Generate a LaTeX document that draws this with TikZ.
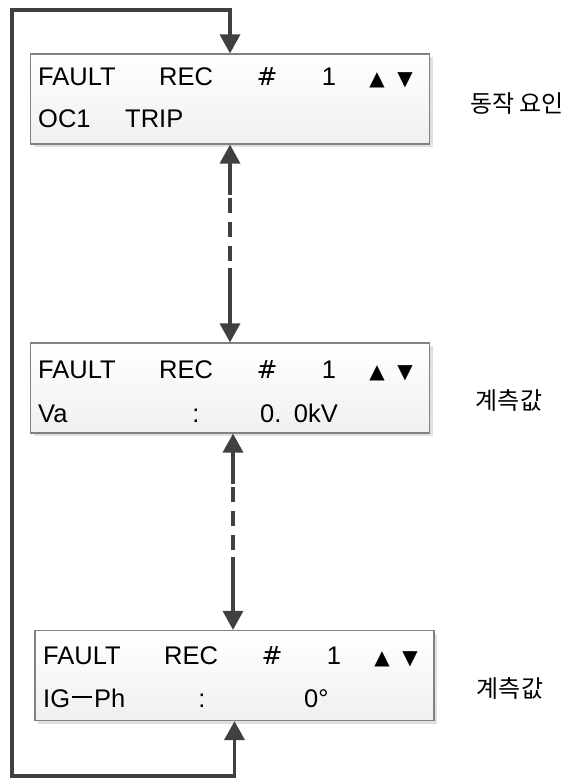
\documentclass[tikz,border=0pt]{standalone}
\usepackage{fontspec}
\setmainfont{Liberation Sans}
\newfontfamily\kofont{Noto Sans CJK KR}
\newfontfamily\trifont{DejaVu Sans}
\usepackage{tikz}
\usetikzlibrary{arrows.meta, shadows, calc}
\definecolor{lcdline}{RGB}{64, 64, 64}
\definecolor{lcdframe}{RGB}{130, 130, 130}
\tikzset{
    lcd/.style={rectangle, draw=lcdframe, line width=1.2pt,
        top color=white, bottom color=gray!12,
        minimum width=399pt, minimum height=90pt, inner sep=0pt,
        drop shadow={shadow xshift=3pt, shadow yshift=-3pt, fill=gray!40, opacity=0.6}},
    lcdtext/.style={anchor=base west, inner sep=0pt, font=\fontsize{25.5}{30}\selectfont},
    tri/.style={anchor=base, inner sep=0pt, font=\trifont\fontsize{20}{24}\selectfont},
    note/.style={inner sep=0pt, font=\kofont\fontsize{24}{28}\selectfont},
    flow/.style={draw=lcdline, line width=3.5pt,
        {Triangle[length=19pt, width=20pt]}-{Triangle[length=19pt, width=20pt]}},
    flowdash/.style={flow, dash pattern={on 32pt off 3pt on 15pt off 9pt on 15pt off 9pt on 15pt off 7pt on 300pt}},
}

\begin{document}
\begin{tikzpicture}[x=1pt, y=-1pt]
    \useasboundingbox (0,0) rectangle (571,778);
    \node[lcd] (rec1) at (230,99) {};
    \node[lcd] (rec2) at (230,388) {};
    \node[lcd] (rec3) at (234.5,675.5) {};
    \foreach \i/\dx/\by in {1/0/86, 2/0/378, 3/5/664} {
        \node[lcdtext] (fault\i) at (38+\dx,\by) {FAULT};
        \node[lcdtext] (rc\i) at (159+\dx,\by) {REC};
        \node[lcdtext, anchor=base, font=\trifont\fontsize{25}{30}\selectfont] (hash\i) at (267+\dx,\by) {\#};
        \node[lcdtext, anchor=base] (num\i) at (329+\dx,\by) {1};
        \node[tri] (up\i) at (377+\dx,\by) {▲};
        \node[tri] (dn\i) at (405+\dx,\by) {▼};
    }
    \node[lcdtext] (oc) at (38,128) {OC1};
    \node[lcdtext] (trip) at (125,128) {TRIP};
    \node[lcdtext] (va) at (38,422) {Va};
    \node[lcdtext, anchor=base] (colva) at (196,422) {:};
    \node[lcdtext] (kv) at (260,422) {0.\hspace{3pt} 0kV};
    \node[lcdtext] (igph) at (43,707) {IG\hspace{2pt}\raisebox{9pt}{\rule{20pt}{2.2pt}}\hspace{2pt}Ph};
    \node[lcdtext, anchor=base] (colig) at (202,707) {:};
    \node[lcdtext] (deg) at (304,707) {0°};
    \node[note] (cause) at (517,104) {동작 요인};
    \node[note] (meas1) at (509,400) {계측값};
    \node[note] (meas2) at (510,688) {계측값};
    \coordinate (lt) at (12,10);
    \coordinate (lb) at (12,776);
    \draw[flow] (rec1.north) |- (lt) -- (lb) -| (rec3.south);
    \draw[flowdash] (rec1.south) -- (rec2.north);
    \draw[flowdash] ($(rec2.south)+(3,0)$) -- ($(rec3.north)+(-1.5,0)$);
\end{tikzpicture}
\end{document}
